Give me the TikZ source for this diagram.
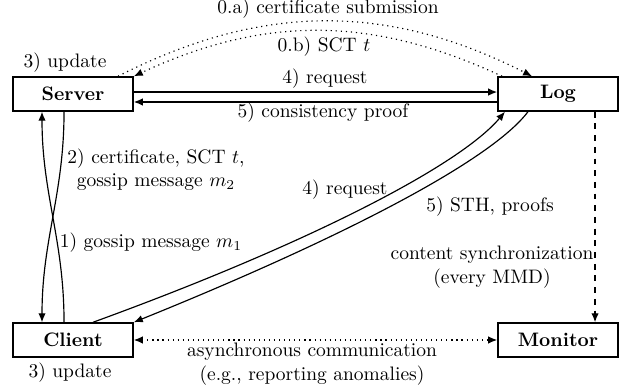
\documentclass[tikz,border=0pt]{standalone}
\usetikzlibrary{arrows.meta}
\begin{document}
\begin{tikzpicture}[x=0.513pt,y=0.513pt,>={Latex[length=4.6pt,width=3.8pt]},semithick]
  \tikzstyle{entity}=[draw,thick,minimum width=61.6pt,minimum height=17.4pt,inner sep=0pt,font=\bfseries]
  \tikzstyle{lbl}=[inner sep=0pt,align=center]
  \useasboundingbox (0,0) rectangle (633,390);
  \node[entity] (server) at (73,296) {Server};
  \node[entity] (log) at (558,296) {Log};
  \node[entity] (client) at (73,50) {Client};
  \node[entity] (monitor) at (558,50) {Monitor};
  % labels
  \node[lbl] (srvupd) at (65,327) {3) update};
  \node[lbl] (cliupd) at (70,17) {3) update};
  \node[lbl] (submit) at (328,381) {0.a) certificate submission};
  \node[lbl] (sct) at (324,343) {0.b) SCT $t$};
  \node[lbl] (req) at (325,311) {4) request};
  \node[lbl] (cons) at (323,277) {5) consistency proof};
  \node[lbl] (cert) at (156,220) {2) certificate, SCT $t$,\\gossip message $m_2$};
  \node[lbl] (goss) at (151,147) {1) gossip message $m_1$};
  \node[lbl] (creq) at (345,200) {4) request};
  \node[lbl] (sth) at (490,183) {5) STH, proofs};
  \node[lbl] (sync) at (492,123) {content synchronization\\(every MMD)};
  \node[lbl] (async) at (312,26) {asynchronous communication\\(e.g., reporting anomalies)};
  % server <-> log
  \draw[->,dotted] ([xshift=23.1pt]server.north) to[bend left=27] ([xshift=-13.3pt]log.north);
  \draw[->,dotted] ([xshift=-28.7pt]log.north) to[bend right=25] (server.north east);
  \draw[->] ([yshift=1pt]server.east) -- ([yshift=1pt]log.west);
  \draw[->] ([yshift=-4.1pt]log.west) -- ([yshift=-4.1pt]server.east);
  % client <-> server
  \draw[->] ([xshift=-4.6pt]client.north) to[out=90,in=-90] ([xshift=-15.9pt]server.south);
  \draw[->] ([xshift=-4.6pt]server.south) to[out=-90,in=90] ([xshift=-15.9pt]client.north);
  % client <-> log
  \draw[->] ([xshift=10.3pt]client.north) .. controls +(20:230) and +(230:70) .. ([xshift=-27.2pt]log.south);
  \draw[->] ([xshift=-15.4pt]log.south) .. controls +(233:60) and +(22:230) .. (client.north east);
  % monitor
  \draw[->,dashed] ([xshift=19pt]log.south) -- ([xshift=19pt]monitor.north);
  \draw[<->,dotted] (client.east) -- (monitor.west);
\end{tikzpicture}
\end{document}
